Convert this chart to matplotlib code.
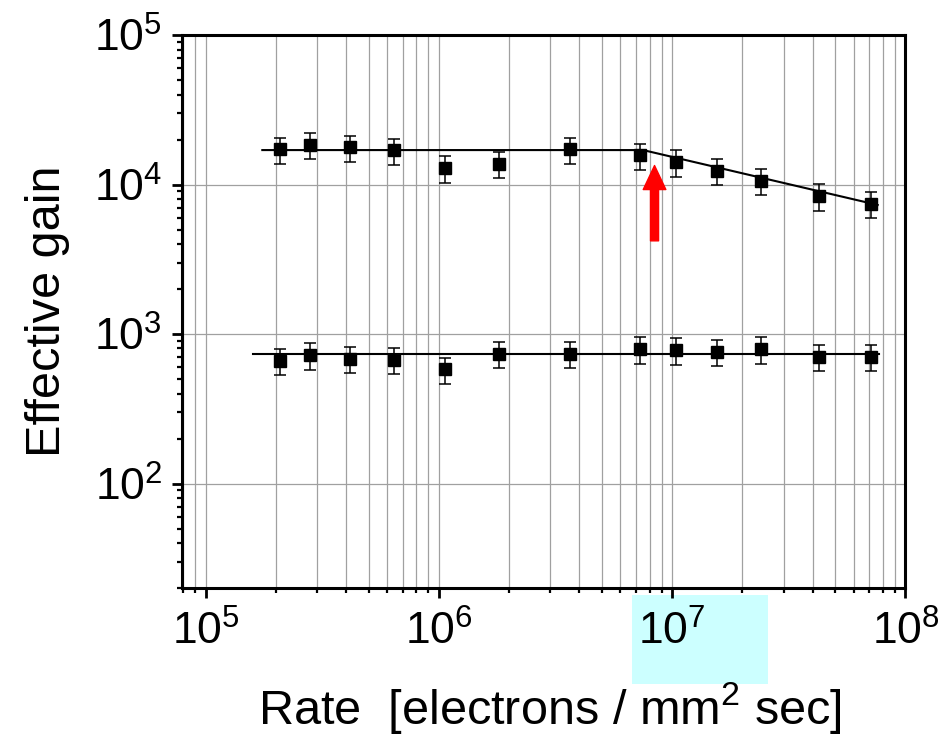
import matplotlib
matplotlib.use("Agg")
import matplotlib.pyplot as plt
from matplotlib.patches import Rectangle
from matplotlib.ticker import LogLocator, NullFormatter

plt.rcParams["font.family"] = ["Liberation Sans", "DejaVu Sans"]
plt.rcParams["mathtext.fontset"] = "custom"
plt.rcParams["mathtext.rm"] = "Liberation Sans"
plt.rcParams["mathtext.default"] = "regular"

# rate of incoming electrons [electrons / mm^2 sec]
rate = [2.09e5, 2.8e5, 4.15e5, 6.4e5, 1.06e6, 1.81e6, 3.65e6,
        7.3e6, 1.04e7, 1.55e7, 2.41e7, 4.24e7, 7.08e7]

# high gain series
gain_high = [1.72e4, 1.85e4, 1.77e4, 1.69e4, 1.28e4, 1.38e4, 1.72e4,
             1.57e4, 1.41e4, 1.24e4, 1.06e4, 8.4e3, 7.45e3]
err_high = [3400, 3700, 3500, 3400, 2600, 2800, 3400,
            3100, 2800, 2500, 2100, 1700, 1500]

# low gain series
gain_low = [660, 720, 680, 675, 580, 740, 740,
            790, 780, 757, 790, 705, 705]
err_low = [130, 145, 135, 135, 115, 150, 150,
           160, 155, 150, 160, 140, 140]

# fitted curves
fit_high_x = [1.75e5, 7.5e6, 7.6e7]
fit_high_y = [1.7e4, 1.7e4, 7.3e3]
fit_low_x = [1.6e5, 7.7e7]
fit_low_y = [740, 740]

# arrow marking the onset of the gain drop
arrow_x = 8.4e6
arrow_y = [4.2e3, 1.34e4]

fig = plt.figure(figsize=(9.45, 7.36), dpi=100)
ax = fig.add_axes([0.1923, 0.2011, 0.7659, 0.7513])

# light cyan box behind the 10^7 tick label
fig.add_artist(Rectangle((632 / 945, 1 - 684 / 736), 136 / 945, 89 / 736,
                         transform=fig.transFigure, facecolor="#ccffff",
                         edgecolor="none", zorder=-1))

ax.set_xscale("log")
ax.set_yscale("log")
ax.set_xlim(7.9e4, 1e8)
ax.set_ylim(20, 1e5)

ax.plot(fit_high_x, fit_high_y, color="black", lw=1.5, zorder=2)
ax.plot(fit_low_x, fit_low_y, color="black", lw=1.5, zorder=2)

for g, e in [(gain_high, err_high), (gain_low, err_low)]:
    ax.errorbar(rate, g, yerr=e, fmt="s", color="black", ms=8,
                capsize=4, elinewidth=1.1, capthick=1.1, zorder=3)

ax.annotate("", xy=(arrow_x, arrow_y[1]), xytext=(arrow_x, arrow_y[0]),
            arrowprops=dict(arrowstyle="simple,head_width=1.63,head_length=1.73,tail_width=0.58",
                            color="red", mutation_scale=10, shrinkA=0, shrinkB=0),
            zorder=4)

# grid and ticks
ax.set_axisbelow(True)
ax.xaxis.set_major_locator(LogLocator(base=10))
ax.xaxis.set_minor_locator(LogLocator(base=10, subs=range(2, 10)))
ax.yaxis.set_major_locator(LogLocator(base=10))
ax.yaxis.set_minor_locator(LogLocator(base=10, subs=range(2, 10)))
ax.xaxis.set_minor_formatter(NullFormatter())
ax.yaxis.set_minor_formatter(NullFormatter())
ax.grid(True, which="major", axis="both", color="#a0a0a0", lw=0.9)
ax.grid(True, which="minor", axis="x", color="#a0a0a0", lw=0.9)

for s in ax.spines.values():
    s.set_linewidth(2.2)
ax.tick_params(which="major", direction="out", length=7, width=2,
               labelsize=32, pad=7)
ax.tick_params(which="minor", direction="out", length=3.5, width=1.6)
ax.tick_params(axis="x", which="major", pad=9)

ax.set_xlabel("Rate  [electrons / mm$^2$ sec]", fontsize=35, va="center")
ax.xaxis.set_label_coords(0.509, -0.217)
ax.set_ylabel("Effective gain", fontsize=35, va="center")
ax.yaxis.set_label_coords(-0.186, 0.5)

fig.savefig("out.png", dpi=100, facecolor="white")
